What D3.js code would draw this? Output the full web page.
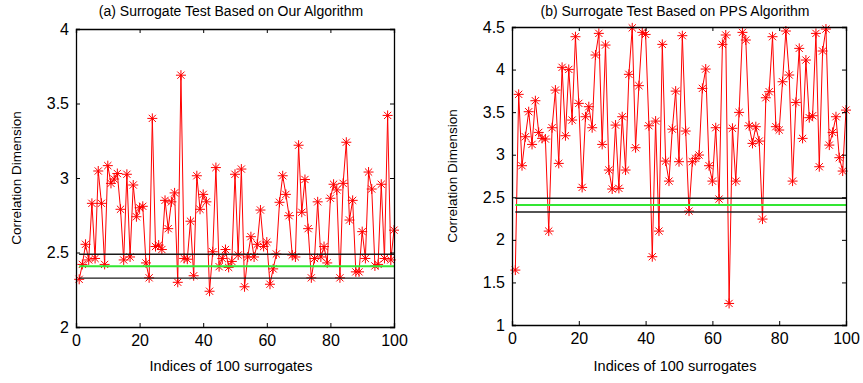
<!DOCTYPE html>
<html>
<head>
<meta charset="utf-8">
<script src="https://cdn.jsdelivr.net/npm/d3@7"></script>
<style>
	body { margin: 0; background: #fff; }
	svg text { font-family: "Liberation Sans", Arial, sans-serif; fill: #000; }
</style>
</head>
<body>
<svg id="chart" width="863" height="383"></svg>
<script>
// correlation dimension of each surrogate
let ourValues = [2.32, 2.42, 2.555, 2.45, 2.83, 2.46, 3.047, 2.83, 2.42, 3.083,
	2.964, 2.993, 3.03, 2.79, 2.45, 3.025, 2.47, 2.953, 2.74, 2.80,
	2.81, 2.43, 2.33, 3.40, 2.54, 2.55, 2.52, 2.85, 2.66, 2.84,
	2.90, 2.30, 3.69, 2.46, 2.455, 2.71, 2.344, 3.015, 2.79, 2.89,
	2.84, 2.24, 2.505, 3.07, 2.405, 2.46, 2.52, 2.40, 2.44, 3.025,
	2.483, 3.06, 2.27, 2.47, 2.606, 2.47, 2.555, 2.785, 2.54, 2.57,
	2.287, 2.39, 2.49, 2.837, 3.015, 2.89, 2.747, 2.483, 2.47, 3.22,
	2.77, 2.99, 2.66, 2.33, 2.46, 2.84, 2.47, 2.54, 2.43, 2.864,
	2.958, 2.92, 2.33, 2.964, 3.24, 2.718, 2.85, 2.37, 2.37, 2.64,
	2.46, 3.04, 2.926, 2.41, 2.42, 2.958, 2.46, 3.42, 2.45, 2.65];

let ppsValues = [1.645, 3.709, 2.871, 3.211, 3.505, 3.121, 3.634, 3.262, 3.192, 3.184,
	2.103, 3.317, 3.759, 2.898, 4.026, 3.223, 4.002, 3.407, 4.386, 3.603,
	2.616, 3.446, 3.564, 3.317, 4.171, 4.425, 3.121, 4.288, 2.82, 2.597,
	3.348, 2.605, 3.446, 2.82, 3.944, 4.49, 3.082, 3.811, 4.437, 4.413,
	3.34, 1.802, 3.395, 2.103, 4.296, 2.925, 2.69, 3.30, 3.747, 2.918,
	4.398, 3.278, 2.338, 2.918, 2.957, 2.996, 3.779, 4.006, 2.871, 2.69,
	3.317, 2.479, 4.296, 4.406, 1.253, 3.31, 2.69, 3.497, 4.437, 4.347,
	3.34, 3.133, 3.329, 3.16, 2.244, 3.669, 3.74, 4.386, 3.329, 3.29,
	3.857, 4.453, 3.936, 2.69, 3.614, 4.249, 3.192, 4.112, 3.435, 3.458,
	4.425, 2.859, 4.218, 4.476, 3.113, 3.262, 3.446, 2.965, 2.808, 3.524];

// reference levels (original data: upper / mean / lower)
let levels = [
	{ 'value': 2.488, 'color': '#1a1a1a' },
	{ 'value': 2.408, 'color': '#33e633' },
	{ 'value': 2.328, 'color': '#1a1a1a' }
];

let xTicks = [0, 20, 40, 60, 80, 100];
let yTicksA = [2, 2.5, 3, 3.5, 4];
let yTicksB = [1, 1.5, 2, 2.5, 3, 3.5, 4, 4.5];

let panels = [
	{
		'title': '(a) Surrogate Test Based on Our Algorithm',
		'values': ourValues, 'yDomain': [2, 4], 'yTicks': yTicksA,
		'left': 76, 'right': 394, 'top': 29, 'bottom': 327
	},
	{
		'title': '(b) Surrogate Test Based on PPS Algorithm',
		'values': ppsValues, 'yDomain': [1, 4.5], 'yTicks': yTicksB,
		'left': 512, 'right': 846, 'top': 27, 'bottom': 325
	}
];

let svg = d3.select('svg#chart');

function star(r) {
	let d = r * 0.72;
	return 'M' + (-r) + ',0h' + (2 * r) + 'M0,' + (-r) + 'v' + (2 * r) +
		'M' + (-d) + ',' + (-d) + 'l' + (2 * d) + ',' + (2 * d) +
		'M' + (-d) + ',' + d + 'l' + (2 * d) + ',' + (-2 * d);
}

panels.forEach(function (p) {
	let x = d3.scaleLinear([0, 100], [p.left, p.right]);
	let y = d3.scaleLinear(p.yDomain, [p.bottom, p.top]);
	let g = svg.append('g');
	let pts = p.values.map((v, i) => [i + 1, v]);

	// surrogate series
	let line = d3.line().x(d => x(d[0])).y(d => y(d[1]));
	g.append('path')
		.datum(pts)
		.attr('fill', 'none')
		.attr('stroke', '#ff0000')
		.attr('stroke-width', 1)
		.attr('d', line);

	g.selectAll('path.marker')
		.data(pts)
		.join('path')
		.attr('class', 'marker')
		.attr('transform', d => 'translate(' + x(d[0]) + ',' + y(d[1]) + ')')
		.attr('d', star(5))
		.attr('fill', 'none')
		.attr('stroke', '#ff0000')
		.attr('stroke-width', 1);

	// reference lines, drawn over the series
	g.selectAll('line.level')
		.data(levels)
		.join('line')
		.attr('class', 'level')
		.attr('x1', x(1)).attr('x2', x(100))
		.attr('y1', d => y(d.value)).attr('y2', d => y(d.value))
		.attr('stroke', d => d.color)
		.attr('stroke-width', d => d.color == '#1a1a1a' ? 1.4 : 2);

	// axes, ticks inside like matlab
	let ax = g.append('g').attr('class', 'axes');
	ax.append('g').attr('transform', 'translate(0,' + p.bottom + ')')
		.call(d3.axisBottom(x).tickValues(xTicks).tickSize(-4).tickPadding(8).tickFormat(d3.format('d')));
	ax.append('g').attr('transform', 'translate(0,' + p.top + ')')
		.call(d3.axisTop(x).tickValues(xTicks).tickSize(-4).tickFormat(''));
	ax.append('g').attr('transform', 'translate(' + p.left + ',0)')
		.call(d3.axisLeft(y).tickValues(p.yTicks).tickSize(-4).tickPadding(7).tickFormat(d => String(d)));
	ax.append('g').attr('transform', 'translate(' + p.right + ',0)')
		.call(d3.axisRight(y).tickValues(p.yTicks).tickSize(-4).tickFormat(''));
	ax.selectAll('.domain').attr('stroke', '#000').attr('stroke-width', 1.3);
	ax.selectAll('.tick line').attr('stroke', '#000');
	ax.selectAll('.tick text')
		.style('font-size', '16px')
		.style('font-family', '"Liberation Sans", Arial, sans-serif');

	let cx = (p.left + p.right) / 2;
	g.append('text')
		.attr('x', cx - 4).attr('y', 16)
		.attr('text-anchor', 'middle')
		.style('font-size', '14px')
		.text(p.title);
	g.append('text')
		.attr('x', cx - 4).attr('y', 371)
		.attr('text-anchor', 'middle')
		.style('font-size', '14.5px')
		.text('Indices of 100 surrogates');
	g.append('text')
		.attr('transform', 'translate(' + (p.left - 55) + ',' + ((p.top + p.bottom) / 2) + ') rotate(-90)')
		.attr('text-anchor', 'middle')
		.style('font-size', '13.5px')
		.text('Correlation Dimension');
});
</script>
</body>
</html>
